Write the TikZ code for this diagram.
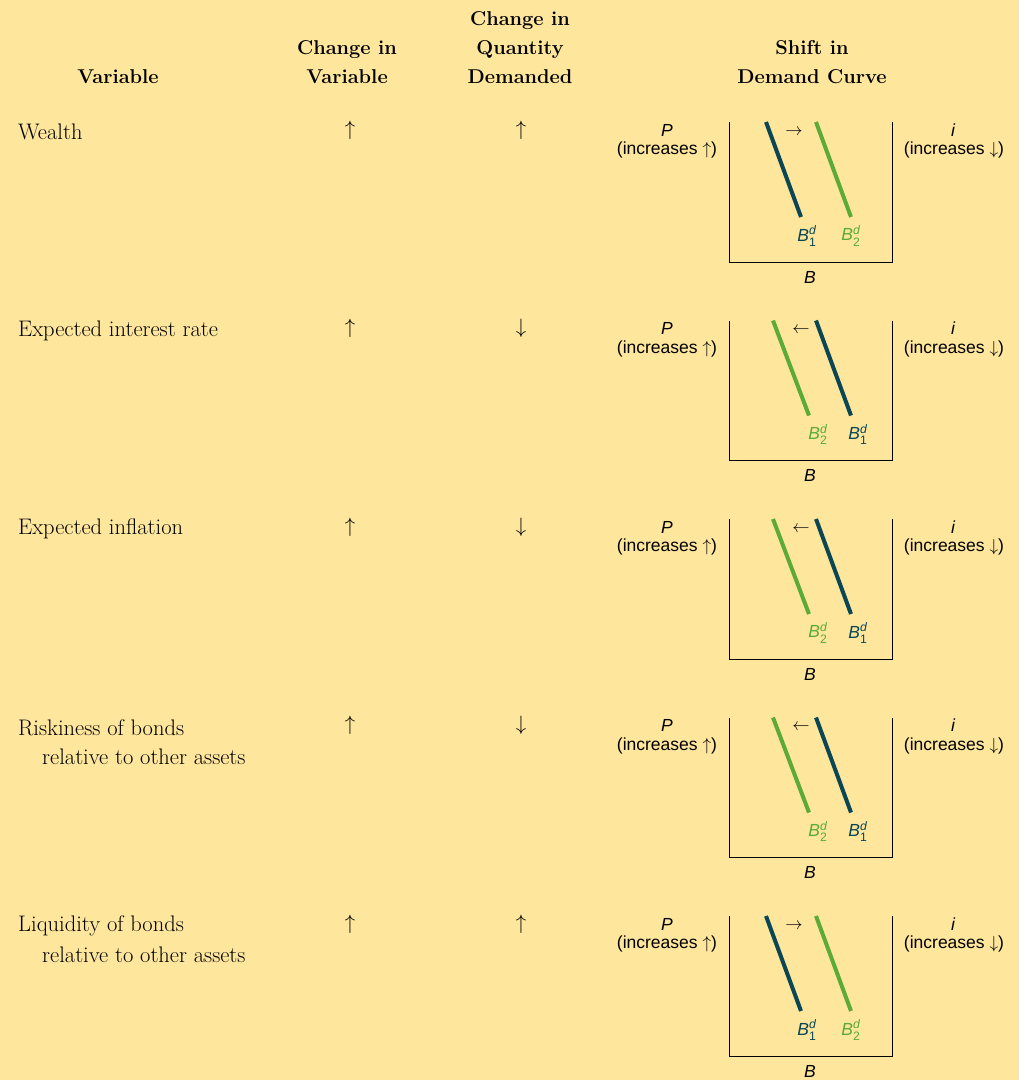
\documentclass[tikz,border=0pt]{standalone}
\usepackage{amsmath}
\usepackage{fontspec}
\setsansfont{Liberation Sans}
\usepackage{tikz}

\definecolor{bgyellow}{RGB}{254,230,157}
\definecolor{bdold}{RGB}{10,70,84}
\definecolor{bdnew}{RGB}{92,170,56}

\newcommand{\bdlab}[1]{{\itshape B}$^{\textsf{\textit{d}}}_{\textsf{#1}}$}

\tikzset{
  hdr/.style={font=\fontsize{20}{29}\selectfont\bfseries, align=center},
  vartext/.style={font=\fontsize{22.5}{24}\selectfont, anchor=west, inner sep=0pt},
  chg/.style={font=\fontsize{21}{24}\selectfont, inner sep=0pt},
  axlab/.style={font=\fontsize{17.5}{20}\selectfont\sffamily, inner sep=0pt},
  curve/.style={line width=4pt},
  axis/.style={line width=1pt},
}

\begin{document}
\begin{tikzpicture}[x=1pt,y=-1pt]
  \useasboundingbox (0,0) rectangle (1019,1080);
  \fill[bgyellow] (0,0) rectangle (1019,1080);

  % Headings
  \node[hdr] (hvar) at (118,77) {Variable};
  \node[hdr] (hchg) at (347,62.5) {Change in\\Variable};
  \node[hdr] (hqty) at (520,48) {Change in\\Quantity\\Demanded};
  \node[hdr] (hshift) at (812,62.5) {Shift in\\Demand Curve};

  % Rows
  \foreach \r/\va/\vb/\qty/\sh in {
      1/Wealth//\uparrow/1,
      2/Expected interest rate//\downarrow/0,
      3/Expected inflation//\downarrow/0,
      4/Riskiness of bonds/relative to other assets/\downarrow/0,
      5/Liquidity of bonds/relative to other assets/\uparrow/1}{
    \pgfmathsetmacro\T{122+198.5*(\r-1)}
    % variable and changes
    \node[vartext] (var\r) at (18,\T+10) {\va};
    \node[vartext] (varb\r) at (42,\T+39) {\vb};
    \node[chg] (chg\r) at (350,\T+8) {$\uparrow$};
    \node[chg] (qty\r) at (521,\T+8) {$\qty$};

    % small graph
    \draw[axis] (729,\T) -- (729,\T+140) -- (892,\T+140) -- (892,\T);
    \node[axlab] (p\r) at (667,\T+8) {\itshape P};
    \node[axlab] (pinc\r) at (667,\T+28) {(increases $\uparrow$)};
    \node[axlab] (i\r) at (953,\T+8) {\itshape i};
    \node[axlab] (iinc\r) at (954,\T+28) {(increases $\downarrow$)};
    \node[axlab] (b\r) at (810,\T+155) {\itshape B};

    \ifnum\sh=1
      \draw[curve,bdold] (766,\T) -- (801,\T+95);
      \draw[curve,bdnew] (816,\T) -- (851,\T+95);
      \node[axlab] (sh\r) at (794,\T+10) {$\rightarrow$};
      \node[axlab,bdold] (one\r) at (807,\T+114) {\bdlab{1}};
      \node[axlab,bdnew] (two\r) at (851,\T+114) {\bdlab{2}};
    \else
      \draw[curve,bdnew] (773,\T) -- (809,\T+95);
      \draw[curve,bdold] (816,\T) -- (851,\T+95);
      \node[axlab] (sh\r) at (801,\T+10) {$\leftarrow$};
      \node[axlab,bdnew] (two\r) at (818,\T+114) {\bdlab{2}};
      \node[axlab,bdold] (one\r) at (858,\T+114) {\bdlab{1}};
    \fi
  }
\end{tikzpicture}
\end{document}
